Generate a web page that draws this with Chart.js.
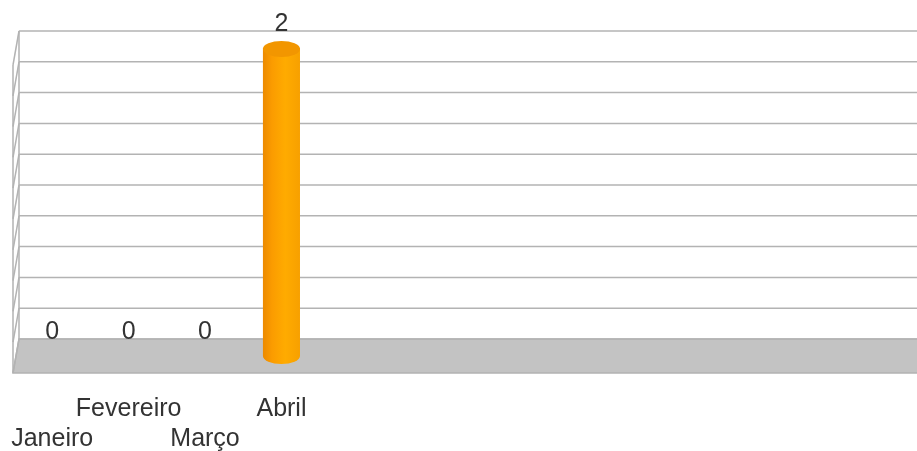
<!DOCTYPE html>
<html lang="pt-br">
<head>
  <meta charset="UTF-8">
  <title>Grafico</title>
  <script src="https://cdn.jsdelivr.net/npm/chart.js"></script>
  <style>
    body { margin: 0; background: #fff; overflow: hidden; }
    .grafico { width: 940px; height: 451px; }
  </style>
</head>
<body>
  <div class="grafico">
    <canvas id="grafico"></canvas>
  </div>

<script>
  // dados (12 meses, so os 4 primeiros preenchidos)
  const meses = ['Janeiro', 'Fevereiro', 'Março', 'Abril', '', '', '', '', '', '', '', ''];
  const valores = [0, 0, 0, 2, null, null, null, null, null, null, null, null];
  const eixoMin = 0;
  const eixoMax = 2;
  const eixoPasso = 0.2;

  const fonte = '"Liberation Sans", Arial, sans-serif';
  const corTexto = '#333333';
  const corGrade = '#b3b3b3';

  // profundidade da perspectiva 3D (meio da profundidade = escala do grafico)
  const profX = 3;
  const profY = 17;

  const fundo3d = {
    id: 'fundo3d',
    beforeDatasetsDraw(chart) {
      const ctx = chart.ctx;
      const y = chart.scales.y;
      const area = chart.chartArea;
      const fundoEsq = area.left + 2 + profX;
      const frenteEsq = area.left + 2 - profX;
      const dir = chart.width;

      ctx.save();
      ctx.lineWidth = 1.5;
      ctx.strokeStyle = corGrade;

      // piso
      const yPiso = y.getPixelForValue(eixoMin);
      ctx.fillStyle = '#c3c3c3';
      ctx.beginPath();
      ctx.moveTo(fundoEsq, yPiso - profY);
      ctx.lineTo(dir, yPiso - profY);
      ctx.lineTo(dir, yPiso + profY);
      ctx.lineTo(frenteEsq, yPiso + profY);
      ctx.closePath();
      ctx.fill();
      ctx.stroke();

      // linhas de grade na parede do fundo e na parede lateral
      for (let v = eixoMin; v <= eixoMax + 1e-9; v += eixoPasso) {
        const py = y.getPixelForValue(v);
        ctx.beginPath();
        ctx.moveTo(fundoEsq, py - profY);
        ctx.lineTo(dir, py - profY);
        ctx.stroke();
        ctx.beginPath();
        ctx.moveTo(fundoEsq, py - profY);
        ctx.lineTo(frenteEsq, py + profY);
        ctx.stroke();
      }

      // arestas verticais da parede lateral
      const yTopo = y.getPixelForValue(eixoMax);
      ctx.beginPath();
      ctx.moveTo(fundoEsq, yTopo - profY);
      ctx.lineTo(fundoEsq, yPiso - profY);
      ctx.moveTo(frenteEsq, yTopo + profY);
      ctx.lineTo(frenteEsq, yPiso + profY);
      ctx.stroke();
      ctx.restore();
    },

    afterDatasetsDraw(chart) {
      const ctx = chart.ctx;
      const meta = chart.getDatasetMeta(0);
      ctx.save();
      meta.data.forEach(function (barra, i) {
        const valor = valores[i];
        if (valor === null || valor === undefined) return;
        const p = barra.getProps(['x', 'y', 'base', 'width'], true);
        const rx = p.width / 2;
        const ry = 8;

        if (valor > 0) {
          // corpo do cilindro
          const grad = ctx.createLinearGradient(p.x - rx, 0, p.x + rx, 0);
          grad.addColorStop(0, '#ec8a00');
          grad.addColorStop(0.25, '#fb9c00');
          grad.addColorStop(0.6, '#ffab00');
          grad.addColorStop(1, '#f7a000');
          ctx.fillStyle = grad;
          ctx.beginPath();
          ctx.moveTo(p.x - rx, p.y);
          ctx.lineTo(p.x - rx, p.base);
          ctx.ellipse(p.x, p.base, rx, ry, 0, Math.PI, 0, true);
          ctx.lineTo(p.x + rx, p.y);
          ctx.closePath();
          ctx.fill();

          // tampa
          ctx.fillStyle = '#f29600';
          ctx.beginPath();
          ctx.ellipse(p.x, p.y + 1, rx, ry, 0, 0, Math.PI * 2);
          ctx.fill();
        }

        // rotulo do valor
        ctx.fillStyle = corTexto;
        ctx.font = '25px ' + fonte;
        ctx.textAlign = 'center';
        ctx.textBaseline = 'middle';
        ctx.fillText(String(valor), p.x, p.y - 24);
      });
      ctx.restore();
    }
  };

  const ctx = document.getElementById('grafico').getContext('2d');
  new Chart(ctx, {
    type: 'bar',
    data: {
      labels: meses,
      datasets: [{
        label: 'Valores',
        data: valores,
        backgroundColor: 'rgba(0,0,0,0)',
        borderWidth: 0,
        barPercentage: 1,
        categoryPercentage: 0.485
      }]
    },
    options: {
      responsive: true,
      maintainAspectRatio: false,
      animation: false,
      layout: { padding: { top: 48, left: 14, right: 9, bottom: 0 } },
      plugins: {
        legend: { display: false },
        tooltip: { enabled: false }
      },
      scales: {
        x: {
          grid: { display: false, drawTicks: false },
          border: { display: false },
          ticks: {
            padding: 38,
            maxRotation: 0,
            autoSkip: false,
            color: corTexto,
            font: { family: fonte, size: 25, lineHeight: 1.2 },
            callback: function (v, i) {
              const nome = meses[i];
              if (!nome) return '';
              return i % 2 === 1 ? [nome, ''] : ['', nome];
            }
          },
          afterFit: function (escala) {
            // altura fixa do eixo e sem folga lateral extra
            escala.height = 95;
            escala.paddingLeft = 0;
            escala.paddingRight = 0;
          }
        },
        y: {
          display: false,
          min: eixoMin,
          max: eixoMax
        }
      }
    },
    plugins: [fundo3d]
  });
</script>
</body>
</html>
